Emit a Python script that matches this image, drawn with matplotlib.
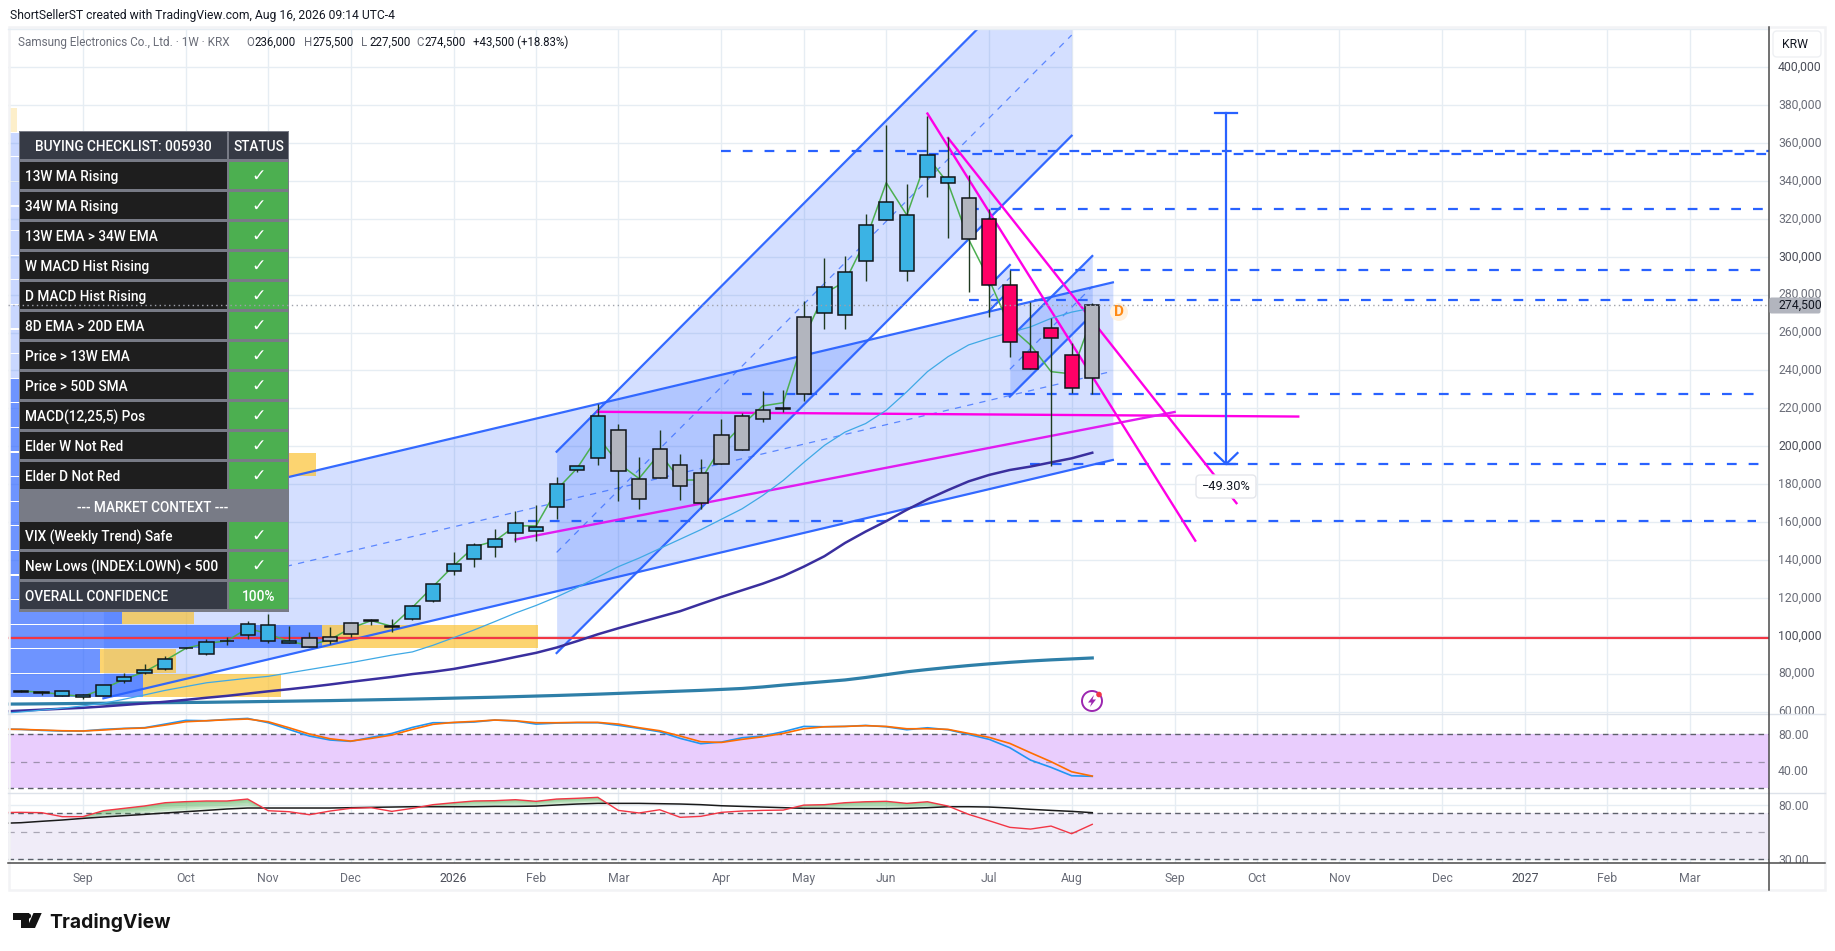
import matplotlib
matplotlib.use("Agg")
import matplotlib.pyplot as plt
import numpy as np
from matplotlib.patches import Rectangle, FancyBboxPatch, Circle, Polygon
from matplotlib.transforms import Bbox, ScaledTranslation

FONT = "Roboto"
plt.rcParams["font.family"] = [FONT, "DejaVu Sans"]

# ---------------- data (week index, KRW) ----------------
body_top = [70900,70350,70700,68600,74200,78400,82100,87950,93500,96900,97400,106400,105900,97400,98650,99550,106900,108500,105350,115900,127500,138100,148100,151250,159700,157600,180300,189450,215800,208400,182600,198400,189950,185700,205800,215800,219000,220050,268100,283900,291800,316600,328700,321900,353550,342300,330850,319800,285000,249600,262250,248000,274500]
body_bot = [70500,70000,68400,67500,68400,76150,80200,82300,93300,90200,97100,100250,97100,96000,93900,97100,100800,107600,104500,108700,118500,134000,140350,146700,154250,155150,167800,187300,193650,187100,172400,183450,178900,170250,190500,197900,214250,219850,227400,270150,269100,297600,319200,292300,341900,338800,309200,285000,254900,240600,257000,230600,236000]
high = [71400,71000,70700,69100,74200,80200,84950,89350,93500,98150,99200,107800,111500,105000,102000,104650,106900,109000,108700,116200,127500,144050,148800,156200,165700,168850,183800,189450,222300,211800,194200,208600,195900,193300,214200,217400,229200,229700,276700,299400,300400,322600,369500,338400,374300,363000,343200,325000,293000,276300,267500,254300,275500]
low = [70100,68900,68400,66800,68400,75250,79850,81950,92900,89700,94950,98500,96000,96000,93900,95850,99200,105700,102200,108500,117900,132250,136500,141800,149300,150200,161800,186400,190300,171300,167100,183450,171700,167100,190500,197900,213000,218300,223900,262100,262100,287400,319200,287400,331400,310100,281600,268100,247300,240600,189600,227950,227500]
candle_kind = list("bbbbbbbbbbbbbb" + "ggggg" + "bbbbbbbbbb" + "gggggggggg" + "bbbbbbb" + "g" + "rrrrr" + "g")

# indicator series start one week before the first visible candle
green_line = [70800,70300,69000,68000,72000,77000,81000,87000,93400,96000,97300,104000,101000,97000,95000,98000,104000,108000,105000,115000,126000,137000,147000,150000,158000,158000,177000,188500,205000,191000,183000,196300,182200,182200,199800,211200,221300,223000,257000,280700,286900,308800,339100,322000,352800,338800,309200,287800,263100,253500,239400,238200,268400]
ema_line = [59000,59800,60800,61800,63000,64400,66500,68800,71200,73200,75200,76400,77600,78600,80400,82200,84000,85800,87800,89800,91500,95000,99000,103100,107500,112000,116000,120500,125500,131000,136500,141000,146000,151000,156000,161500,167000,174000,182000,191500,200500,207500,212000,219000,228800,239400,247300,253500,257000,260000,263000,267500,270800,273000]
ma34_line = [60000,60500,61000,61500,62000,62700,63500,64300,65200,66200,67300,68300,69500,70700,71800,73000,74300,75700,77000,78300,79800,81000,82500,84500,86500,88800,91000,93800,97200,100800,104000,107000,110000,113000,116800,120500,124000,127500,131500,136500,142000,149000,155000,160500,166500,172000,176900,181500,184900,187500,189300,191500,193650,196600]
long_line = [63950,64000,64100,64200,64300,64400,64500,64600,64700,64800,64900,65050,65200,65350,65500,65650,65800,66000,66200,66400,66600,66850,67100,67350,67600,67900,68200,68500,68850,69200,69600,70000,70400,70800,71200,71700,72200,73000,74000,74900,75800,76700,78000,79500,81000,82200,83300,84300,85200,86000,86700,87300,87800,88300]

stoch_k = [85.9,85.5,84.4,83.7,83.7,85.5,86.6,87.4,91.4,95.5,95.1,96.6,97.7,92.9,85.5,78.1,73.7,72.2,76.6,81.0,87.7,92.9,92.9,93.7,95.9,94.8,91.4,92.5,92.9,92.9,90.0,86.6,82.9,75.5,69.6,71.4,76.2,78.1,82.9,88.8,88.4,88.8,89.9,88.4,85.1,87.3,85.1,79.9,74.4,65.1,51.4,43.3,34.0,33.3]
stoch_d = [85.7,85.5,84.8,84.0,83.7,84.8,86.3,87.0,90.3,94.0,95.1,96.2,97.0,94.0,87.4,80.3,75.1,72.5,75.5,79.2,85.5,91.1,93.3,94.4,95.9,95.1,92.9,92.9,93.3,93.3,91.4,87.4,84.0,78.1,71.8,71.0,74.4,77.3,81.0,86.2,88.4,88.8,89.6,88.8,86.2,86.2,85.5,81.0,76.6,69.9,59.6,49.6,38.4,33.6]
rs_red = [73.0,73.2,72.9,69.2,69.2,74.7,76.9,79.1,82.1,83.1,83.7,83.7,85.5,74.7,73.8,71.0,74.4,76.9,77.5,74.1,76.9,80.3,82.1,83.7,84.0,84.9,83.4,85.5,86.2,87.1,75.0,72.6,75.6,68.6,69.5,73.2,74.4,75.0,75.3,79.9,80.3,82.1,83.0,83.4,81.5,83.0,79.0,71.3,65.4,59.3,57.7,60.5,53.4,62.1]
rs_black = [63.0,63.6,64.9,66.1,67.6,68.9,70.1,71.3,72.6,73.8,75.0,76.3,77.2,77.2,77.2,77.2,77.2,77.5,77.8,78.1,78.4,78.4,78.4,78.4,78.7,78.7,79.0,80.0,80.9,81.5,81.5,81.5,81.2,80.9,80.3,79.3,78.7,78.1,77.5,76.9,76.9,76.6,76.6,76.6,76.9,77.5,78.4,78.4,78.1,77.2,76.0,75.0,74.1,72.9]
fill_from_week = 3

# volume-profile rows, bottom to top: buy / sell widths in weeks
vp_up = [6.5,4.4,15.2,5.5,7.0,9.5,9.0,9.0,9.5,9.7,8.0,7.0,6.0,5.5,5.0,5.0,4.5,4.5,4.0,4.0,3.5,3.5,3.0,0.0]
vp_dn = [6.7,3.7,10.5,3.5,3.0,3.4,3.0,3.9,3.0,5.2,3.0,2.0,2.0,1.0,1.0,1.0,1.0,1.0,1.0,1.0,1.0,1.0,1.0,0.4]
vp_alpha = [.68]*13 + [.25]*11
vp_base, vp_step = 67180, 12982

level_prices = [355990,354400,325400,293000,277200,227600,190660,160600]
level_start = [34,43,46,48,46,35,49,24.6]
level_end = [84.85,84.85,84.85,84.7,84.85,84.6,84.5,84.2]

chan_a = dict(x=[26,51], up=[197150,470150], mid=[144000,417000], lo=[90900,363900])
chan_b = dict(x=[4,53], up=[160700,286500], mid=[113850,239650], lo=[67000,192800])
chan_c = dict(x=[48,52], up=[256975,300420], mid=[240620,284240], lo=[226200,269640])
chan_d = dict(x=[47,48], up=[284770,295670], mid=[278080,289000], lo=[271575,282480])

magenta_lines = [([28,62],[218200,215700],"#FF00E6"), ([24,56],[150800,218100],"#E01CF0"),
                 ([44,57],[375600,150200],"#FF00E6"), ([45,59],[362700,170000],"#FF00E6")]
arrow_x, arrow_top, arrow_bot = 58.5, 376000, 190660
red_level = 99000
last_price = 274500

month_pos = [3,8,12,16,21,25,29,34,38,42,47,51,56,60,64,69,73,77,81]
month_lab = ["Sep","Oct","Nov","Dec","2026","Feb","Mar","Apr","May","Jun","Jul","Aug","Sep","Oct","Nov","Dec","2027","Feb","Mar"]

checks = ["13W MA Rising","34W MA Rising","13W EMA > 34W EMA","W MACD Hist Rising","D MACD Hist Rising",
          "8D EMA > 20D EMA","Price > 13W EMA","Price > 50D SMA","MACD(12,25,5) Pos","Elder W Not Red","Elder D Not Red"]
context = ["VIX (Weekly Trend) Safe","New Lows (INDEX:LOWN) < 500"]

# ---------------- layout ----------------
W, H = 1835, 951
L, R, T = 8, 1769, 29
P1, P2, P3 = 714, 793, 863
fig = plt.figure(figsize=(W/100, H/100), dpi=100, facecolor="white")
def pane(top, bot):
    return fig.add_axes([L/W, 1-bot/H, (R-L)/W, (bot-top)/H])
ax = pane(T, P1); ax2 = pane(P1, P2); ax3 = pane(P2, P3)
XLIM = (-0.631, 84.85)
GRID = "#E6EDF3"
BLUE = "#2962FF"
LBL = "#6A6D78"
for a in (ax, ax2, ax3):
    a.set_xlim(*XLIM)
    a.set_xticks(month_pos)
    a.grid(True, color=GRID, lw=1.0)
    a.set_axisbelow(True)
    a.yaxis.tick_right()
    a.tick_params(length=0, labelsize=8.8, labelcolor=LBL, pad=6.5)
    for s in a.spines.values():
        s.set_visible(False)
    a.patch.set_alpha(0)
ax.tick_params(labelbottom=False); ax2.tick_params(labelbottom=False)
ax.set_ylim(58730, 420210)
ptick = list(range(60000, 400001, 20000))
ax.set_yticks(ptick)
ax.set_yticklabels([f"{p:,}" for p in ptick])
lift = ScaledTranslation(0, 1.5/100, fig.dpi_scale_trans)
for lab, p in zip(ax.get_yticklabels(), ptick):
    lab.set_color("#4A4D58" if p % 100000 == 0 else LBL)
    lab.set_verticalalignment("center_baseline")
    lab.set_transform(lab.get_transform() + lift)
    lab.set_clip_on(True)
    lab.set_clip_box(Bbox([[0, H-P1], [W, H-T]]))

x = np.arange(len(body_top))
xi = np.arange(-1, len(body_top))
# channels
for c in (chan_a, chan_b, chan_c, chan_d):
    ax.fill_between(c["x"], c["lo"], c["up"], color=BLUE, alpha=.2, lw=0, zorder=1.2)
    ax.plot(c["x"], c["up"], color=BLUE, lw=1.6, alpha=.95, zorder=2)
    ax.plot(c["x"], c["lo"], color=BLUE, lw=1.6, alpha=.95, zorder=2)
    ax.plot(c["x"], c["mid"], color=BLUE, lw=.9, alpha=.7, zorder=2, dashes=(5, 5))
# volume profile
mid = np.array([vp_base + vp_step*(k+.5) for k in range(len(vp_up))])
left = XLIM[0] + 0.05
for m, u, d, al in zip(mid, vp_up, vp_dn, vp_alpha):
    ax.barh(m, u, left=left, height=vp_step*.95, color=BLUE, alpha=al, lw=0, zorder=1.5)
    ax.barh(m, d, left=left+u, height=vp_step*.95, color="#FBC02D", alpha=al, lw=0, zorder=1.5)
# levels
for p, s, e in zip(level_prices, level_start, level_end):
    ax.plot([s, e], [p, p], color=BLUE, lw=1.6, dashes=(4.4, 5.4), zorder=2.2)
ax.axhline(red_level, color="#F23645", lw=1.6, zorder=2.2)
for xs, ys, col in magenta_lines:
    ax.plot(xs, ys, color=col, lw=1.7, zorder=3)
# moving averages
ax.plot(xi, long_line, color="#2E7FA8", lw=2.3, zorder=3.2)
ax.plot(xi, ma34_line, color="#3A2F9E", lw=1.8, zorder=3.2)
ax.plot(xi, ema_line, color="#3FA9E5", lw=0.9, zorder=3.2)
ax.plot(x, green_line, color="#4CAF50", lw=1.1, zorder=3.3)
# arrow
ax.plot([arrow_x, arrow_x], [arrow_top, arrow_bot], color=BLUE, lw=1.6, zorder=3.4)
ax.plot([arrow_x-.55, arrow_x+.55], [arrow_top, arrow_top], color=BLUE, lw=1.6, zorder=3.4)
ax.plot([arrow_x-.55, arrow_x+.55], [arrow_bot, arrow_bot], color=BLUE, lw=1.6, zorder=3.4)
ax.plot([arrow_x-.55, arrow_x, arrow_x+.55], [arrow_bot+5800, arrow_bot, arrow_bot+5800], color=BLUE, lw=1.6, zorder=3.4)
# candles
cmap = {"b": "#3BB3E4", "g": "#B2B5BE", "r": "#FF0066"}
ax.vlines(x, low, high, color="#1F3A20", lw=1.0, zorder=4)
ax.bar(x, np.array(body_top)-np.array(body_bot), bottom=body_bot, width=.69,
       color=[cmap[k] for k in candle_kind], edgecolor="#101418", linewidth=1.1, zorder=4.5)

# stochastic pane
ax2.set_ylim(14.8, 102.6)
ax2.set_yticks([40, 80]); ax2.set_yticklabels(["40.00", "80.00"])
ax2.axhspan(20.3, 80, color="#E9CDFD", lw=0, zorder=1)
ax2.axhline(80, color="#5D606B", lw=1, dashes=(4, 3), zorder=2)
ax2.axhline(20.3, color="#5D606B", lw=1, dashes=(4, 3), zorder=2)
ax2.axhline(49.6, color="#9E91AE", lw=.9, dashes=(5, 5), zorder=2)
ax2.plot(xi, stoch_k, color="#2196F3", lw=1.2, zorder=3)
ax2.plot(xi, stoch_d, color="#FF6D00", lw=1.2, zorder=3.1)

# relative strength pane
ax3.set_ylim(26.3, 91.1)
ax3.set_yticks([30, 80]); ax3.set_yticklabels(["30.00", "80.00"])
ax3.axhspan(29.7, 72.3, color="#F0ECF8", lw=0, zorder=1)
ax3.axhline(72.3, color="#5D606B", lw=1, dashes=(4, 3), zorder=2)
ax3.axhline(29.7, color="#5D606B", lw=1, dashes=(4, 3), zorder=2)
ax3.axhline(55.3, color="#A9A6B4", lw=.9, dashes=(5, 5), zorder=2)
red_a, black_a = np.array(rs_red), np.array(rs_black)
for t in (0, .2, .4, .6, .8):
    ax3.fill_between(xi, black_a + t*(red_a-black_a), red_a, where=(red_a >= black_a) & (xi >= fill_from_week),
                     interpolate=True, color="#4CAF50", alpha=.16, lw=0, zorder=2.5)
ax3.plot(xi, rs_black, color="#1A1A1A", lw=1.1, zorder=3)
ax3.plot(xi, rs_red, color="#F23645", lw=1.0, zorder=3.1)
ax3.set_xticklabels(month_lab)
ax3.tick_params(axis="x", pad=6.5)
for lab, t in zip(ax3.get_xticklabels(), month_lab):
    lab.set_color("#4A4D58" if t.isdigit() else LBL)
for lab in ax3.get_yticklabels():
    lab.set_clip_on(True)
    lab.set_clip_box(Bbox([[0, H-P3], [W, H-P2]]))

# ---------------- overlay in pixel space ----------------
ov = fig.add_axes([0, 0, 1, 1], zorder=10)
ov.set_xlim(0, W); ov.set_ylim(H, 0); ov.axis("off"); ov.patch.set_alpha(0)
ov.add_patch(Rectangle((9, 27), 1816, 863, fc="none", ec="#F2F3F5", lw=1.8, zorder=0))
ov.plot([L, R], [T, T], color=GRID, lw=1)
ov.plot([L, 1825], [P1, P1], color="#DDE2EA", lw=1)
ov.plot([L, 1825], [P2, P2], color="#DDE2EA", lw=1)
ov.plot([L, 1825], [P3, P3], color="#4A4A4A", lw=1.1)
ov.plot([R, R], [27, 890], color="#4A4A4A", lw=1.1)

# table
TL, TM, TR, TT, RH = 18.6, 227.5, 289, 130.5, 30
nrows = 16
TFS = 9.8
TXT_DY = 1.5
ov.add_patch(Rectangle((TL, TT), TR-TL, nrows*RH+1, fc="#787B86", ec="none", zorder=5))
def row(i, text, fill, right_fill, right_text, center=False):
    y = TT + i*RH + 1.5
    h = RH - 3
    tick = right_text == "\u2713"
    ov.add_patch(Rectangle((TL+1.5, y), TM-TL-2.5, h, fc=fill, ec="none", zorder=6))
    ov.add_patch(Rectangle((TM+1, y), TR-TM-2.5, h, fc=right_fill, ec="none", zorder=6))
    ov.text((TL+TM)/2 if center else 25, y+h/2+TXT_DY, text, color="white", fontsize=TFS, fontweight=500,
            ha="center" if center else "left", va="center", zorder=7)
    ov.text((TM+TR)/2+.5, y+h/2+(.5 if tick else TXT_DY), right_text, color="white", fontsize=12.5 if tick else TFS, ha="center", va="center", zorder=7,
            family="DejaVu Sans" if tick else FONT, fontweight="bold" if tick else 500)
row(0, "BUYING CHECKLIST: 005930", "#363A45", "#363A45", "STATUS", center=True)
for k, t in enumerate(checks):
    row(k+1, t, "#1E1E1E", "#4CAF50", "\u2713")
ov.text((TL+TR)/2-1, TT+12*RH+15.5+TXT_DY, "--- MARKET CONTEXT ---", color="white", fontsize=TFS, fontweight=500, ha="center", va="center", zorder=7)
for k, t in enumerate(context):
    row(k+13, t, "#1E1E1E", "#4CAF50", "\u2713")
row(15, "OVERALL CONFIDENCE", "#363A45", "#4CAF50", "100%")

# last price dotted line and tag (uses the price scale of the main pane)
ov.plot([0, 1], [last_price, last_price], transform=ax.get_yaxis_transform(), color="#9EA1AA", lw=1, dashes=(1, 2.4), zorder=8)
ov.add_patch(FancyBboxPatch((R+.5, 297.5), 51, 16, boxstyle="round,pad=0,rounding_size=2", fc="#B2B5BE", ec="none", zorder=8))
ov.text(R+9, 305.7, f"{last_price:,}", color="#131722", fontsize=8.8, va="center", ha="left", zorder=9)

# KRW button
ov.add_patch(FancyBboxPatch((1773, 31), 48, 26, boxstyle="round,pad=0,rounding_size=4", fc="white", ec="#EEF0F3", lw=1, zorder=8))
ov.text(1782, 44.5, "KRW", color="#131722", fontsize=8.8, va="center", ha="left", zorder=9)

# header and legend
ov.text(10, 15, "ShortSellerST created with TradingView.com, Aug 16, 2026 09:14 UTC-4", color="#131722", fontsize=8.7, va="center")
legend_y = 42.5
ov.text(18, legend_y, "Samsung Electronics Co., Ltd. \u00b7 1W \u00b7 KRX", color=LBL, fontsize=8.5, va="center")
for px, t, c in [(246, "O", LBL), (254, "236,000", "#131722"), (303.7, "H", LBL), (312, "275,500", "#131722"),
                 (361, "L", LBL), (369, "227,500", "#131722"), (416, "C", LBL), (424, "274,500", "#131722"),
                 (473, "+43,500 (+18.83%)", "#131722")]:
    ov.text(px, legend_y, t, color=c, fontsize=8.3, va="center")

# percentage label
ov.add_patch(FancyBboxPatch((1196, 475), 60, 23, boxstyle="round,pad=0,rounding_size=4", fc="white", ec="#E4E6EB", lw=1, zorder=8))
ov.text(1226, 486.5, "\u221249.30%", color="#131722", fontsize=9.2, ha="center", va="center", zorder=9)

# D marker
ov.add_patch(Circle((1119, 312), 9, fc="#FFF1DF", ec="none", zorder=6))
ov.text(1119, 312.5, "D", color="#FF8A14", fontsize=11, fontweight="bold", ha="center", va="center", zorder=7)

# lightning icon
ov.add_patch(Circle((1092, 701), 10, fc="white", ec="#9C27B0", lw=1.4, zorder=6))
ov.add_patch(Polygon([(1094, 695), (1088, 702.5), (1091.5, 702.5), (1090, 707), (1096, 699.5), (1092.5, 699.5)], fc="#9C27B0", ec="none", zorder=7))
ov.add_patch(Circle((1099, 694.5), 2.8, fc="#F23645", ec="none", zorder=8))

# logo
ov.add_patch(Polygon([(12.7, 913), (29, 913), (29, 928), (21, 928), (21, 919.5), (12.7, 919.5)], fc="#131313", ec="none"))
ov.add_patch(Circle((28.5, 916), 2.6, fc="#131313", ec="none"))
ov.add_patch(Polygon([(33.5, 913), (41.7, 913), (35, 928), (26.8, 928)], fc="#131313", ec="none"))
ov.text(49, 928, "TradingView", color="#131313", fontsize=13.9, fontweight="bold", family="Inter", va="baseline", ha="left")

fig.savefig("out.png", dpi=100, facecolor="white")
